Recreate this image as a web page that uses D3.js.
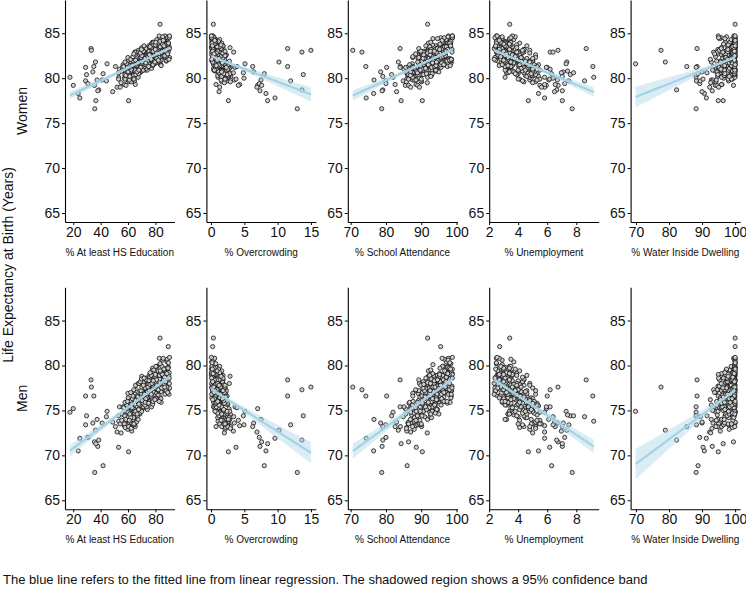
<!DOCTYPE html>
<html>
<head>
<meta charset="utf-8">
<script src="https://cdn.jsdelivr.net/npm/d3@7"></script>
<style>
  body { margin: 0; background: #fff; }
  svg { display: block; font-family: Arial, "Liberation Sans", sans-serif; }
</style>
</head>
<body>
<svg id="chart" width="746" height="592"></svg>
<script>
// one entry per area, same index in every column
// first 47 = the scattered (rural) areas + two top ones, rest = main cloud
const eduPct = [
  17.6, 20.0, 23.6, 24.8, 29.0, 29.7, 29.0, 33.0, 33.2, 35.0, 36.2, 34.3, 30.7, 35.5, 37.4, 38.6,
  37.9, 36.5, 35.7, 41.8, 41.1, 44.2, 44.7, 48.8, 50.8, 52.0, 53.2, 60.4, 57.3, 58.5, 65.3, 53.1,
  53.1, 53.8, 54.3, 58.0, 59.2, 57.2, 62.0, 62.7, 63.2, 66.0, 65.0, 70.0, 68.0, 83.4, 89.4,
  61.2, 56.4, 59.8, 63.5, 55.9, 60.7, 58.1, 62.9, 57.3, 64.0,
  58.6, 62.4, 65.1, 57.9, 61.0, 63.8, 59.5, 66.2, 60.3, 64.7,
  66.5, 60.1, 63.0, 67.4, 62.2, 65.8, 59.9, 64.4, 68.1, 61.6,
  63.9, 68.7, 66.0, 62.5, 69.8, 65.2, 67.3, 64.1, 70.4, 66.9,
  70.2, 64.6, 68.4, 71.5, 66.3, 69.1, 72.6, 67.0, 65.5, 70.9,
  68.2, 72.9, 66.7, 70.0, 73.8, 69.4, 71.7, 67.6, 74.5, 71.1,
  73.0, 68.8, 71.9, 75.6, 70.3, 74.1, 72.4, 76.3, 69.7, 73.6,
  75.1, 71.3, 73.9, 77.2, 72.8, 76.0, 70.6, 74.8, 78.0, 73.3,
  76.8, 73.1, 78.9, 75.4, 72.2, 77.7, 74.6, 79.6, 76.2, 75.0,
  78.4, 75.9, 73.7, 80.1, 77.0, 74.9, 79.3, 76.7, 81.2, 78.0,
  80.6, 77.4, 75.3, 79.8, 82.0, 76.5, 78.6, 81.5, 77.9, 80.3,
  79.1, 82.6, 80.9, 77.6, 83.4, 79.7, 81.8, 78.3, 84.0, 80.2,
  83.1, 80.7, 78.8, 84.5, 82.2, 81.0, 85.3, 79.4, 83.8, 82.7,
  84.9, 81.9, 86.0, 83.3, 80.5, 85.7, 82.4, 86.8, 84.2, 81.4,
  86.4, 84.6, 87.3, 83.0, 85.9, 88.0, 84.1, 86.9, 82.8, 87.6,
  87.9, 85.2, 88.6, 86.3, 89.1, 84.8, 87.0, 88.9, 86.6, 89.5,
  89.8, 87.4, 90.3, 88.2, 86.9, 89.3, 90.0, 87.8, 88.8, 90.2,
  60.5, 56.8, 62.3, 55.4, 59.1, 63.7, 57.6, 61.9, 54.9, 60.0,
  63.2, 58.4, 65.5, 60.9, 62.7, 57.8, 66.1, 59.6, 64.3, 61.5,
  66.8, 62.0, 68.4, 63.6, 61.3, 67.2, 64.8, 69.5, 62.9, 65.7,
  70.1, 65.4, 71.9, 67.7, 64.2, 69.3, 72.5, 66.6, 70.8, 68.0,
  73.4, 69.0, 75.1, 71.2, 67.9, 74.6, 70.4, 76.0, 72.3, 69.8,
  77.2, 72.6, 78.5, 74.3, 71.7, 76.8, 73.9, 79.4, 75.6, 73.0,
  80.4, 76.1, 81.9, 77.5, 75.0, 79.9, 82.6, 78.2, 80.8, 76.9,
  83.5, 79.6, 85.1, 81.0, 78.4, 84.2, 80.3, 86.2, 82.7, 79.9,
  87.0, 83.4, 88.3, 85.9, 82.1, 86.7, 89.2, 84.5, 87.8, 85.3,
  89.6, 86.8, 90.1, 88.4, 85.7, 89.9, 87.5, 90.3, 88.9, 86.2
];
const crowdPct = [
  2.2, 7.0, 8.25, 9.6, 2.4, 13.85, 11.95, 11.5, 15.0, 11.5, 10.2, 6.4, 7.25, 7.6, 7.5, 13.65,
  7.35, 8.5, 12.95, 8.0, 3.5, 2.1, 5.1, 1.2, 6.25, 6.9, 1.05, 2.6, 4.3, 4.1, 0.75, 4.85,
  3.75, 1.5, 1.3, 3.6, 4.95, 2.0, 2.95, 3.35, 3.9, 13.65, 3.4, 2.85, 2.75, 0.35, 0.25,
  2.7, 1.2, 2.1, 0.8, 2.9, 1.6, 2.4, 1.0, 1.9, 2.6,
  1.4, 2.5, 0.9, 2.2, 1.7, 2.8, 1.1, 2.0, 0.7, 2.4,
  2.3, 0.8, 1.8, 2.6, 1.1, 2.0, 0.6, 2.5, 1.5, 1.2,
  0.9, 2.1, 1.4, 2.7, 0.6, 1.7, 2.3, 1.0, 2.0, 1.3,
  1.9, 0.7, 2.4, 1.2, 2.0, 0.5, 1.6, 2.2, 0.9, 1.5,
  1.1, 2.2, 0.6, 1.8, 1.4, 2.5, 0.8, 1.3, 2.0, 0.4,
  2.0, 0.5, 1.5, 1.1, 2.3, 0.9, 1.7, 0.4, 1.3, 1.9,
  0.7, 1.6, 1.9, 0.4, 1.2, 2.1, 0.6, 1.4, 0.9, 1.8,
  1.5, 0.4, 1.1, 1.8, 0.7, 1.3, 2.0, 0.3, 1.0, 1.6,
  0.5, 1.4, 0.8, 1.7, 0.3, 1.1, 1.5, 0.6, 1.9, 0.9,
  1.3, 0.3, 1.0, 0.6, 1.6, 0.4, 1.2, 0.8, 0.2, 1.5,
  0.6, 1.2, 0.25, 0.9, 1.4, 0.5, 0.8, 0.2, 1.1, 0.4,
  1.0, 0.3, 0.7, 0.15, 0.9, 1.3, 0.4, 0.6, 0.2, 0.8,
  0.4, 0.9, 0.2, 0.6, 0.12, 0.8, 0.3, 1.1, 0.5, 0.25,
  0.7, 0.2, 0.5, 0.1, 0.4, 0.9, 0.15, 0.6, 0.3, 0.45,
  0.2, 0.5, 0.1, 0.35, 0.6, 0.15, 0.4, 0.08, 0.3, 0.7,
  0.3, 0.1, 0.45, 0.2, 0.06, 0.55, 0.12, 0.25, 0.4, 0.1,
  2.5, 1.1, 2.9, 1.7, 0.9, 2.2, 1.4, 2.7, 2.0, 1.3,
  1.9, 2.6, 0.8, 1.5, 2.3, 1.0, 2.8, 1.2, 2.1, 1.6,
  1.2, 2.0, 2.5, 0.7, 1.6, 2.2, 1.0, 1.8, 0.6, 2.4,
  2.1, 0.6, 1.4, 1.9, 0.9, 2.3, 1.1, 1.6, 2.0, 0.5,
  0.8, 1.7, 1.0, 2.1, 0.5, 1.4, 1.9, 0.7, 1.2, 1.6,
  1.5, 0.4, 1.2, 0.8, 1.8, 0.6, 1.3, 0.3, 1.0, 1.7,
  0.5, 1.3, 0.3, 1.0, 0.7, 1.5, 0.4, 1.1, 0.8, 0.2,
  0.9, 0.25, 0.6, 1.2, 0.4, 0.8, 0.15, 0.7, 1.0, 0.35,
  0.3, 0.7, 0.12, 0.5, 0.9, 0.2, 0.45, 0.1, 0.6, 0.35,
  0.15, 0.4, 0.08, 0.3, 0.55, 0.1, 0.25, 0.05, 0.45, 0.2
];
const schoolPct = [
  82.0, 85.5, 76.5, 74.4, 80.2, 81.6, 79.9, 84.0, 70.6, 74.3, 83.5, 78.5, 80.0, 86.4, 76.6, 79.1,
  78.9, 84.3, 78.8, 86.0, 87.5, 84.9, 87.5, 83.0, 84.1, 87.0, 88.0, 90.3, 88.5, 89.0, 82.6, 88.0,
  88.6, 85.1, 89.5, 84.0, 89.0, 90.0, 79.1, 85.9, 87.0, 73.2, 91.0, 92.0, 91.5, 91.8, 95.5,
  86.2, 91.5, 88.0, 92.4, 85.6, 90.1, 87.3, 93.0, 89.4, 86.8,
  92.1, 87.0, 90.6, 85.9, 93.2, 88.7, 91.0, 86.4, 92.8, 89.9,
  88.3, 93.6, 86.5, 91.8, 89.2, 94.0, 87.6, 92.5, 90.4, 86.9,
  93.4, 88.9, 91.2, 87.2, 94.3, 90.0, 86.7, 92.9, 89.6, 93.9,
  89.8, 94.6, 87.9, 92.2, 90.7, 95.0, 88.4, 93.5, 91.4, 87.5,
  94.2, 90.3, 92.7, 88.6, 95.3, 91.6, 89.1, 94.8, 90.9, 93.1,
  91.0, 95.6, 89.5, 93.7, 88.8, 94.4, 92.0, 90.2, 95.9, 92.6,
  95.1, 90.8, 93.3, 89.7, 96.2, 92.3, 94.7, 91.1, 93.8, 89.3,
  92.4, 96.5, 90.5, 94.1, 91.7, 95.4, 89.9, 96.8, 93.0, 91.3,
  96.0, 92.1, 94.9, 90.6, 97.1, 93.6, 91.5, 95.7, 92.8, 94.3,
  93.1, 97.3, 91.9, 95.2, 92.6, 96.7, 94.5, 90.9, 97.6, 93.9,
  97.0, 93.7, 95.8, 92.0, 96.4, 94.8, 98.0, 93.2, 95.5, 91.8,
  94.0, 98.2, 92.7, 96.1, 93.5, 97.5, 95.0, 98.5, 92.4, 96.6,
  97.8, 94.4, 96.9, 93.3, 98.4, 95.6, 93.9, 97.2, 95.1, 98.7,
  95.3, 98.8, 94.2, 97.4, 96.0, 93.6, 98.1, 95.8, 97.7, 94.7,
  98.3, 95.9, 97.1, 94.5, 98.6, 96.3, 95.2, 98.8, 96.8, 97.5,
  96.2, 98.5, 95.0, 97.9, 98.8, 94.9, 97.3, 98.4, 96.5, 98.0,
  87.5, 91.0, 85.8, 89.6, 92.3, 86.4, 90.2, 88.1, 91.7, 87.0,
  90.8, 86.9, 92.6, 88.5, 91.4, 89.0, 93.1, 87.7, 90.0, 92.0,
  88.9, 93.4, 90.3, 87.6, 92.7, 91.1, 94.0, 89.3, 92.2, 90.6,
  93.0, 89.7, 94.5, 91.5, 88.4, 92.9, 90.5, 95.0, 91.9, 93.6,
  91.2, 95.3, 92.4, 89.9, 94.1, 93.3, 96.0, 90.7, 93.8, 92.8,
  94.6, 92.0, 96.3, 93.5, 91.3, 95.4, 94.2, 97.0, 92.5, 95.8,
  93.2, 96.9, 94.8, 92.6, 97.4, 95.1, 93.9, 96.4, 94.4, 97.7,
  96.6, 94.3, 97.9, 95.5, 93.7, 98.2, 96.0, 94.9, 97.3, 95.2,
  95.7, 98.4, 96.5, 94.6, 98.0, 97.1, 95.3, 98.7, 96.2, 97.6,
  98.1, 96.8, 98.8, 97.5, 95.9, 98.5, 97.0, 98.8, 96.4, 98.3
];
const unemployPct = [
  5.82, 5.94, 5.4, 5.82, 6.0, 7.59, 7.49, 8.68, 6.74, 9.14, 7.35, 7.1, 7.2, 6.75, 6.1, 6.65,
  7.04, 7.04, 7.72, 6.3, 6.7, 8.57, 7.3, 6.5, 5.2, 5.82, 9.2, 4.7, 5.82, 5.5, 6.55, 7.81,
  6.17, 6.2, 5.6, 5.94, 6.4, 7.4, 7.04, 6.97, 4.8, 6.2, 6.4, 3.2, 4.0, 3.42, 2.73,
  5.1, 3.6, 4.8, 5.5, 3.3, 4.4, 5.3, 3.9, 4.9, 3.5,
  4.6, 5.4, 3.4, 4.1, 5.0, 3.2, 4.7, 5.2, 3.8, 4.3,
  3.7, 4.9, 5.3, 3.1, 4.4, 5.0, 3.5, 4.0, 5.4, 4.2,
  5.0, 3.3, 4.2, 4.8, 3.6, 5.2, 2.9, 4.5, 3.9, 4.7,
  3.4, 4.6, 5.1, 3.0, 4.3, 3.8, 4.9, 3.2, 4.4, 5.3,
  4.7, 3.1, 3.9, 5.0, 2.8, 4.2, 3.6, 4.8, 3.3, 4.5,
  3.2, 4.4, 2.9, 4.9, 3.7, 4.1, 3.0, 4.6, 3.5, 5.1,
  4.3, 2.8, 3.6, 4.7, 3.1, 3.9, 4.5, 2.7, 4.0, 3.4,
  2.9, 4.2, 3.5, 4.6, 3.0, 4.8, 3.3, 2.6, 4.1, 3.8,
  3.9, 2.7, 4.5, 3.2, 2.6, 4.0, 3.6, 4.4, 2.9, 3.3,
  3.1, 4.3, 2.6, 3.7, 4.1, 2.9, 3.5, 4.6, 2.7, 3.8,
  4.0, 2.6, 3.3, 2.8, 4.4, 3.6, 2.5, 3.9, 3.1, 4.2,
  2.7, 3.8, 3.0, 4.1, 2.5, 3.4, 4.3, 2.8, 3.6, 3.2,
  3.5, 2.5, 4.0, 2.9, 3.3, 2.6, 3.8, 3.1, 4.2, 2.7,
  2.8, 3.6, 2.45, 3.9, 3.1, 2.6, 3.4, 4.0, 2.5, 3.2,
  3.3, 2.5, 3.7, 2.7, 2.4, 3.5, 2.9, 3.8, 2.6, 3.1,
  2.6, 3.4, 2.4, 3.0, 3.6, 2.5, 3.2, 2.45, 3.5, 2.35,
  4.8, 3.5, 5.2, 4.1, 3.2, 5.5, 3.9, 4.6, 5.0, 3.7,
  3.6, 4.9, 4.2, 5.3, 3.1, 4.5, 3.8, 5.1, 4.0, 4.7,
  4.4, 3.3, 5.0, 3.9, 4.6, 3.0, 4.3, 5.2, 3.6, 4.8,
  3.2, 4.5, 3.7, 4.9, 2.9, 4.1, 5.0, 3.4, 4.3, 3.9,
  4.2, 3.0, 4.6, 3.5, 4.0, 2.8, 4.8, 3.7, 3.1, 4.4,
  2.9, 4.1, 3.4, 4.5, 3.1, 3.8, 2.7, 4.3, 3.6, 3.0,
  3.7, 2.7, 4.0, 3.1, 3.5, 2.6, 4.2, 2.9, 3.4, 3.9,
  2.6, 3.5, 3.0, 3.9, 2.5, 3.3, 2.8, 3.7, 3.1, 2.7,
  3.3, 2.5, 3.6, 2.7, 3.0, 2.45, 3.4, 2.6, 3.8, 2.9,
  2.5, 3.1, 2.4, 3.4, 2.7, 2.35, 3.0, 2.55, 3.2, 2.45
];
const waterPct = [
  88.2, 94.0, 90.7, 91.3, 94.9, 88.2, 88.3, 88.5, 77.6, 88.5, 78.9, 90.0, 89.3, 99.5, 92.8, 82.3,
  93.1, 96.4, 88.2, 88.8, 93.3, 89.5, 69.9, 90.0, 85.4, 92.3, 96.4, 94.9, 96.0, 94.5, 95.9, 91.5,
  90.3, 97.0, 95.0, 88.2, 96.5, 97.0, 94.7, 95.5, 93.4, 93.5, 98.0, 95.9, 97.5, 100, 100,
  96.8, 99.9, 98.2, 100, 99.0, 94.2, 99.8, 92.8, 99.4, 100,
  98.6, 100, 93.9, 99.2, 99.9, 94.8, 99.6, 100, 92.5, 98.0,
  94.6, 99.1, 97.8, 95.9, 99.5, 93.2, 98.4, 96.9, 99.8, 95.3,
  99.3, 97.2, 94.1, 98.8, 96.3, 99.7, 95.6, 98.1, 97.4, 99.9,
  96.6, 99.4, 98.5, 94.9, 99.8, 97.7, 95.8, 99.2, 98.9, 97.0,
  99.6, 98.3, 96.1, 99.9, 97.6, 95.4, 99.1, 98.7, 99.5, 96.8,
  98.0, 99.7, 97.3, 99.2, 95.9, 98.6, 99.8, 97.9, 96.4, 99.4,
  99.5, 97.1, 99.9, 98.4, 99.0, 96.7, 98.9, 99.6, 97.8, 99.3,
  97.5, 99.8, 98.2, 99.4, 96.9, 99.7, 98.8, 99.1, 97.4, 99.9,
  99.2, 98.5, 99.9, 97.7, 99.6, 98.9, 96.6, 99.8, 99.3, 98.1,
  99.7, 98.0, 99.4, 99.9, 97.2, 99.5, 98.7, 99.8, 99.1, 97.9,
  98.6, 99.9, 99.3, 98.2, 99.7, 99.0, 97.6, 99.8, 98.9, 99.6,
  99.9, 99.2, 98.4, 99.7, 99.5, 98.8, 99.9, 97.3, 99.6, 99.1,
  99.4, 96.2, 99.0, 99.9, 95.5, 99.7, 97.1, 99.9, 98.1, 94.8,
  99.8, 95.9, 99.9, 98.9, 97.0, 100, 99.2, 94.6, 99.6, 100,
  96.5, 99.3, 100, 95.2, 99.0, 99.9, 100, 97.4, 99.8, 100,
  100, 96.9, 99.6, 100, 94.9, 100, 99.4, 98.0, 99.7, 95.8,
  99.9, 98.7, 93.0, 99.3, 100, 97.9, 99.7, 99.6, 92.6, 100,
  99.0, 96.7, 99.5, 94.3, 98.4, 97.3, 99.8, 95.2, 98.9, 96.1,
  97.6, 99.4, 95.7, 99.9, 98.2, 96.4, 99.2, 97.0, 99.7, 94.8,
  99.5, 98.0, 99.8, 96.9, 99.1, 98.6, 97.4, 99.9, 95.9, 99.3,
  98.3, 99.7, 97.1, 99.4, 99.9, 98.8, 96.5, 99.6, 99.0, 97.8,
  99.8, 98.5, 99.9, 99.2, 97.6, 99.7, 98.9, 99.4, 100, 98.2,
  99.1, 100, 98.7, 99.6, 99.9, 97.9, 99.5, 100, 99.3, 98.6,
  100, 95.6, 99.8, 98.8, 100, 96.8, 99.9, 99.2, 94.4, 99.7,
  97.2, 100, 99.5, 95.3, 99.8, 99.3, 100, 96.3, 99.6, 100,
  100, 99.9, 95.0, 99.7, 100, 97.7, 99.8, 100, 93.8, 100
];
const lifeWomen = [
  80.1, 79.2, 78.3, 77.8, 81.2, 80.4, 79.7, 83.3, 83.1, 81.3, 81.8, 80.7, 79.4, 79.2, 79.8, 78.7,
  78.6, 77.5, 76.6, 80.5, 79.8, 79.7, 81.6, 78.5, 81.3, 79.0, 80.1, 77.5, 79.3, 79.2, 79.3, 80.6,
  79.9, 81.0, 79.0, 81.2, 80.0, 80.8, 80.2, 80.6, 81.3, 82.9, 82.9, 83.4, 81.9, 86.0, 84.5,
  80.3, 81.5, 79.8, 80.9, 81.2, 79.6, 80.5, 81.8, 80.0, 81.0,
  81.4, 80.2, 80.8, 79.9, 81.9, 80.6, 81.1, 80.4, 82.1, 79.7,
  80.7, 82.0, 81.3, 80.1, 81.7, 80.9, 82.3, 80.5, 81.5, 81.0,
  81.9, 80.6, 82.4, 81.2, 80.8, 82.6, 81.5, 80.3, 82.0, 81.4,
  82.2, 81.0, 80.7, 82.7, 81.6, 82.3, 80.9, 81.8, 82.9, 81.3,
  81.0, 82.5, 81.8, 80.8, 82.9, 81.4, 82.2, 83.1, 81.6, 80.9,
  82.4, 81.2, 83.0, 81.7, 82.6, 80.9, 83.2, 81.9, 82.0, 81.5,
  81.6, 83.0, 82.3, 81.1, 83.4, 82.6, 81.8, 82.9, 81.4, 83.3,
  83.1, 81.5, 82.5, 83.6, 81.9, 82.8, 81.3, 83.0, 82.2, 82.7,
  82.0, 83.4, 81.7, 82.9, 83.8, 82.4, 81.6, 83.2, 82.6, 81.9,
  83.5, 82.1, 83.0, 81.8, 83.9, 82.7, 83.3, 82.2, 84.0, 82.5,
  82.0, 83.4, 82.3, 83.9, 81.6, 83.0, 82.2, 83.7, 81.5, 82.8,
  83.2, 81.9, 84.0, 82.6, 82.2, 84.3, 82.9, 81.7, 83.5, 82.4,
  83.7, 82.2, 83.0, 84.4, 81.9, 83.5, 82.6, 84.1, 82.0, 83.2,
  82.8, 84.5, 82.3, 83.4, 84.0, 81.9, 83.6, 82.9, 84.7, 82.5,
  83.8, 82.4, 84.3, 83.1, 82.1, 84.0, 83.4, 84.6, 82.6, 83.9,
  83.2, 84.4, 82.3, 83.8, 84.7, 82.9, 83.5, 82.0, 84.5, 83.3,
  80.1, 81.3, 79.6, 80.8, 81.6, 79.9, 80.4, 81.1, 79.5, 80.7,
  81.5, 80.3, 82.0, 79.8, 80.9, 81.8, 80.5, 81.2, 79.9, 81.4,
  80.6, 82.1, 81.0, 82.4, 80.2, 81.7, 80.8, 82.3, 81.4, 80.4,
  82.5, 80.9, 81.8, 80.5, 82.7, 81.2, 82.2, 80.7, 81.6, 82.9,
  81.1, 82.8, 81.6, 83.0, 80.9, 82.4, 81.8, 82.6, 81.3, 83.2,
  83.3, 81.5, 82.9, 81.9, 83.6, 82.1, 81.4, 83.1, 82.6, 81.7,
  81.7, 83.5, 82.0, 83.0, 81.3, 83.7, 82.3, 81.5, 82.8, 82.1,
  83.5, 81.8, 83.8, 82.2, 83.0, 81.4, 84.0, 82.5, 81.9, 83.2,
  82.3, 84.1, 82.6, 84.4, 82.0, 83.5, 83.8, 82.9, 82.4, 84.6,
  83.9, 82.5, 84.5, 83.2, 84.2, 82.1, 83.0, 84.7, 82.7, 83.6
];
const lifeMen = [
  74.8, 75.2, 70.5, 71.9, 76.6, 74.4, 73.4, 78.4, 77.6, 76.6, 72.8, 73.6, 72.0, 71.5, 74.0, 71.7,
  71.0, 71.3, 68.1, 68.85, 73.6, 74.3, 74.9, 73.7, 73.2, 72.6, 73.8, 70.4, 73.3, 73.9, 73.2, 74.4,
  70.9, 75.4, 73.5, 75.4, 73.4, 74.5, 73.2, 72.7, 75.3, 77.3, 74.3, 78.8, 78.0, 83.05, 82.1,
  73.6, 75.4, 72.9, 74.8, 74.6, 73.2, 74.5, 75.6, 73.5, 74.9,
  75.2, 73.6, 74.9, 73.1, 75.9, 74.0, 75.5, 73.7, 76.2, 73.4,
  74.5, 76.4, 75.8, 74.0, 76.1, 75.0, 76.9, 74.3, 75.5, 75.3,
  76.3, 74.6, 77.0, 75.2, 75.0, 76.8, 75.9, 74.2, 76.5, 75.4,
  76.9, 75.1, 74.7, 77.3, 76.4, 76.6, 75.3, 76.0, 77.8, 75.6,
  75.2, 77.0, 76.6, 74.9, 77.6, 75.7, 76.9, 78.0, 76.3, 75.4,
  77.4, 75.6, 78.0, 76.1, 77.2, 75.1, 78.3, 76.6, 76.9, 75.8,
  76.0, 78.1, 77.3, 75.4, 78.6, 77.5, 76.2, 77.9, 75.7, 78.4,
  78.2, 76.0, 77.6, 78.9, 76.5, 77.8, 75.8, 78.5, 77.1, 77.4,
  76.8, 78.7, 76.3, 78.2, 79.0, 77.6, 76.5, 78.4, 77.9, 76.9,
  78.9, 77.0, 78.3, 76.6, 79.4, 77.9, 78.6, 77.2, 79.7, 77.5,
  77.0, 78.8, 77.4, 79.4, 76.5, 78.3, 77.6, 79.1, 76.3, 78.1,
  78.5, 76.9, 79.5, 77.9, 77.2, 79.9, 78.2, 76.6, 78.9, 77.5,
  79.3, 76.7, 78.3, 80.1, 76.4, 79.0, 77.2, 79.6, 77.1, 77.7,
  78.2, 79.1, 77.4, 78.9, 78.6, 77.0, 79.2, 77.3, 80.8, 77.8,
  78.6, 77.7, 80.4, 77.7, 77.2, 79.9, 79.1, 79.6, 77.9, 79.8,
  78.9, 79.2, 77.5, 79.7, 79.0, 78.4, 79.2, 77.2, 80.7, 78.0,
  73.2, 75.3, 73.0, 73.9, 75.6, 73.5, 74.4, 74.2, 72.5, 74.8,
  76.3, 74.0, 76.1, 73.9, 75.7, 75.9, 74.9, 76.0, 73.5, 75.4,
  74.4, 77.0, 75.8, 76.6, 74.6, 76.5, 74.7, 77.2, 75.3, 74.9,
  77.6, 74.9, 76.8, 75.1, 77.3, 76.0, 77.5, 74.6, 75.8, 78.0,
  75.4, 78.2, 76.9, 77.8, 75.7, 77.6, 76.1, 77.9, 75.6, 78.5,
  78.9, 75.9, 78.4, 77.1, 78.6, 76.6, 76.4, 78.7, 77.2, 76.3,
  76.3, 79.2, 77.3, 78.0, 75.8, 78.8, 77.6, 76.0, 78.4, 76.8,
  79.4, 76.2, 79.0, 77.8, 78.3, 75.9, 79.9, 77.4, 76.0, 79.0,
  76.8, 80.2, 77.6, 78.4, 77.3, 78.7, 79.7, 77.5, 77.2, 80.6,
  80.3, 77.6, 78.6, 79.1, 80.8, 76.8, 78.2, 80.9, 77.0, 79.6
];

const covariates = [
  { label: '% At least HS Education', values: eduPct, ticks: [20, 40, 60, 80] },
  { label: '% Overcrowding', values: crowdPct, ticks: [0, 5, 10, 15] },
  { label: '% School Attendance', values: schoolPct, ticks: [70, 80, 90, 100] },
  { label: '% Unemployment', values: unemployPct, ticks: [2, 4, 6, 8] },
  { label: '% Water Inside Dwelling', values: waterPct, ticks: [70, 80, 90, 100] }
];
const outcomes = [
  { label: 'Women', values: lifeWomen },
  { label: 'Men', values: lifeMen }
];
const yTicks = [65, 70, 75, 80, 85];
const caption = 'The blue line refers to the fitted line from linear regression. The shadowed region shows a 95% confidence band';

const svg = d3.select('#chart');
const panelW = 109.5, panelH = 222;
const left0 = 65, colStep = 141.4;
const rowTop = [0, 287.3];

const y = d3.scaleLinear().domain([64, 88.7]).range([panelH, 0]);

// ordinary least squares + 95% band for the mean
function fitLine(xs, ys) {
  const n = xs.length;
  const mx = d3.mean(xs), my = d3.mean(ys);
  let sxx = 0, sxy = 0;
  for (let i = 0; i < n; i++) {
    sxx += (xs[i] - mx) ** 2;
    sxy += (xs[i] - mx) * (ys[i] - my);
  }
  const b = sxy / sxx, a = my - b * mx;
  let sse = 0;
  for (let i = 0; i < n; i++) sse += (ys[i] - a - b * xs[i]) ** 2;
  const s = Math.sqrt(sse / (n - 2));
  const t = 1.968;
  return x0 => {
    const fit = a + b * x0;
    const half = t * s * Math.sqrt(1 / n + (x0 - mx) ** 2 / sxx);
    return { x: x0, fit, lo: fit - half, hi: fit + half };
  };
}

outcomes.forEach((out, r) => {
  covariates.forEach((cov, c) => {
    const g = svg.append('g')
      .attr('transform', `translate(${left0 + c * colStep},${rowTop[r]})`);

    const [lo, hi] = d3.extent(cov.values);
    const pad = (hi - lo) * 0.05;
    const x = d3.scaleLinear().domain([lo - pad, hi + pad]).range([0, panelW]);

    const pts = cov.values.map((v, i) => [v, out.values[i]]);

    g.append('g').selectAll('circle')
      .data(pts)
      .join('circle')
      .attr('cx', d => x(d[0]))
      .attr('cy', d => y(d[1]))
      .attr('r', 2.1)
      .attr('fill', '#cfcfcf')
      .attr('stroke', '#111')
      .attr('stroke-width', 0.8);

    const model = fitLine(cov.values, out.values);
    const band = d3.range(0, 81).map(k => model(lo + (hi - lo) * k / 80));

    g.append('path')
      .datum(band)
      .attr('d', d3.area().x(d => x(d.x)).y0(d => y(d.lo)).y1(d => y(d.hi)))
      .attr('fill', '#add8e6')
      .attr('fill-opacity', 0.45);

    g.append('path')
      .datum(band)
      .attr('d', d3.line().x(d => x(d.x)).y(d => y(d.fit)))
      .attr('fill', 'none')
      .attr('stroke', '#a3d3e4')
      .attr('stroke-width', 2.2);

    const yAxis = g.append('g')
      .call(d3.axisLeft(y).tickValues(yTicks).tickSize(3).tickSizeOuter(0).tickPadding(2));
    const xAxis = g.append('g')
      .attr('transform', `translate(0,${panelH})`)
      .call(d3.axisBottom(x).tickValues(cov.ticks).tickSize(3).tickSizeOuter(0).tickPadding(2));

    [yAxis, xAxis].forEach(ax => {
      ax.select('.domain').attr('stroke', '#000').attr('stroke-width', 1.1);
      ax.selectAll('.tick line').attr('stroke', '#000').attr('stroke-width', 1);
      ax.selectAll('.tick text')
        .attr('font-size', 14)
        .attr('font-family', 'Arial, "Liberation Sans", sans-serif')
        .attr('fill', '#111');
    });

    g.append('text')
      .attr('x', panelW / 2)
      .attr('y', panelH + 34)
      .attr('text-anchor', 'middle')
      .attr('font-size', 10)
      .attr('fill', '#111')
      .text(cov.label);
  });

  svg.append('text')
    .attr('transform', `translate(26.5,${rowTop[r] + panelH / 2}) rotate(-90)`)
    .attr('text-anchor', 'middle')
    .attr('font-size', 14)
    .attr('fill', '#111')
    .text(out.label);
});

svg.append('text')
  .attr('transform', 'translate(13,265) rotate(-90)')
  .attr('text-anchor', 'middle')
  .attr('font-size', 14)
  .attr('fill', '#111')
  .text('Life Expectancy at Birth (Years)');

const cap = svg.append('text')
  .attr('x', 3)
  .attr('y', 584)
  .attr('font-size', 12)
  .attr('fill', '#111')
  .text(caption);
const capW = cap.node().getComputedTextLength();
cap.attr('font-size', 12 * 645 / capW);
</script>
</body>
</html>
